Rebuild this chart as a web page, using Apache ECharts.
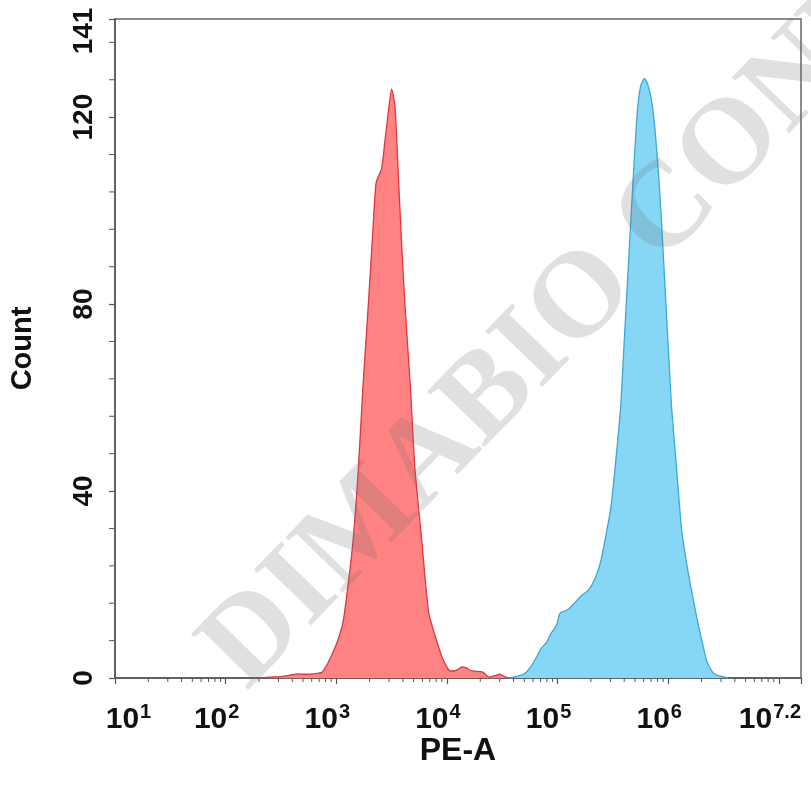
<!DOCTYPE html>
<html><head><meta charset="utf-8">
<script src="https://cdn.jsdelivr.net/npm/echarts@6/dist/echarts.min.js"></script>
<style>html,body{margin:0;padding:0;background:#fff}#c{width:811px;height:791px}</style>
</head><body><div id="c"></div>
<script>
// x values are log10(PE-A) exponents, y values are counts
const redX = [2.30, 2.40, 2.50, 2.58, 2.65, 2.72, 2.80, 2.87, 2.92, 2.97, 3.01, 3.06, 3.10, 3.15, 3.20, 3.24, 3.29, 3.33, 3.36, 3.41, 3.44, 3.47, 3.50, 3.53, 3.56, 3.59, 3.62, 3.67, 3.71, 3.77, 3.835, 3.90, 3.96, 4.03, 4.08, 4.14, 4.17, 4.23, 4.32, 4.38, 4.43, 4.48, 4.52, 4.56];
const redY = [0, 0.2, 0.3, 0.6, 0.9, 0.8, 0.9, 1.2, 3.0, 5.5, 7.8, 11.8, 18.7, 29, 45, 62, 80, 95.5, 106, 109, 115, 121, 126, 122.5, 108, 93, 80, 62, 45, 30, 14, 8.5, 4.2, 1.5, 1.6, 2.4, 2.2, 1.5, 1.3, 0.2, 0.5, 0.8, 0.3, 0];
const blueX = [4.56, 4.62, 4.70, 4.76, 4.81, 4.85, 4.90, 4.94, 4.99, 5.02, 5.05, 5.08, 5.11, 5.16, 5.19, 5.23, 5.28, 5.34, 5.39, 5.43, 5.48, 5.52, 5.57, 5.60, 5.63, 5.66, 5.69, 5.72, 5.75, 5.785, 5.815, 5.85, 5.88, 5.91, 5.94, 5.97, 6.00, 6.03, 6.075, 6.12, 6.17, 6.21, 6.26, 6.31, 6.35, 6.40, 6.44, 6.54];
const blueY = [0, 0.3, 0.9, 2.5, 4.5, 6.3, 7.6, 9.5, 11.3, 13.8, 14.2, 14.5, 15, 16.2, 17, 17.9, 18.8, 21.4, 24.9, 29.7, 36.2, 45, 58, 71, 84, 97, 109.6, 121, 126.6, 128.3, 127, 123.5, 117.4, 108.7, 97.3, 84, 71, 58, 45, 31.9, 24, 18.8, 12.7, 7.4, 3.5, 1.3, 0.6, 0];
const xMinExp = 1, xMaxExp = 7.2;
const yMax = 141, yInterval = 40;
const xTitle = 'PE-A', yTitle = 'Count';
const watermark = 'DIMABIO CONFIDENTIAL';

// minor tick positions (log-spaced on x, every 8 counts on y)
const xMinor = [];
for (let n = 1; n <= 7; n++) for (let k = 2; k <= 9; k++) { const v = n + Math.log10(k); if (v < xMaxExp) xMinor.push([v, 0]); }
const yMinor = [];
for (let v = 8; v < yMax; v += 8) if (v % 40 !== 0) yMinor.push([xMinExp, v]);

const zip = (a, b) => a.map((v, i) => [v, b[i]]);
const chart = echarts.init(document.getElementById('c'), null, {renderer: 'canvas'});
const font = '"Liberation Sans", Arial, sans-serif';
const ink = '#111';
chart.setOption({
  animation: false,
  grid: {left: 115, top: 19, right: 10, bottom: 113, containLabel: false, outerBoundsMode: 'none',
         show: true, borderColor: '#666', borderWidth: 1.5},
  xAxis: {
    type: 'value', min: xMinExp, max: xMaxExp, interval: 1,
    name: xTitle, nameLocation: 'middle', nameGap: 57, nameMoveOverlap: false,
    nameTextStyle: {fontFamily: font, fontWeight: 'bold', fontSize: 32, color: ink},
    axisLine: {lineStyle: {color: '#555', width: 1.5}},
    axisTick: {show: true, length: 6, lineStyle: {color: '#555', width: 1.2}},
    splitLine: {show: false},
    axisLabel: {
      margin: 24, alignMaxLabel: 'right',
      formatter: function (v) {
        if (Math.abs(v - 7) < 1e-9) return '';
        const e = Math.round(v * 10) / 10;
        if (e === xMinExp) return '{bl|10}{s0|' + e + '}';
        if (e === xMaxExp) return '{b|10}{s0|' + e + '}';
        return '{b|10}{s|' + e + '}';
      },
      rich: {
        b: {fontFamily: font, fontWeight: 'bold', fontSize: 30, color: ink},
        bl: {fontFamily: font, fontWeight: 'bold', fontSize: 30, color: ink, padding: [0, 0, 0, 27]},
        s: {fontFamily: font, fontWeight: 'bold', fontSize: 20, color: ink, verticalAlign: 'top', padding: [0, 18, 16, 1]},
        s0: {fontFamily: font, fontWeight: 'bold', fontSize: 20, color: ink, verticalAlign: 'top', padding: [0, 0, 16, 1]}
      }
    }
  },
  yAxis: {
    type: 'value', min: 0, max: yMax, interval: yInterval,
    name: yTitle, nameLocation: 'middle', nameGap: 78, nameMoveOverlap: false,
    nameTextStyle: {fontFamily: font, fontWeight: 'bold', fontSize: 29, color: ink},
    axisLine: {show: true, lineStyle: {color: '#555', width: 1.5}},
    axisTick: {show: true, length: 6, lineStyle: {color: '#555', width: 1.2}},
    splitLine: {show: false},
    axisLabel: {rotate: 90, margin: 17, color: ink,
      formatter: function (v) { return v === yMax ? '{m|' + v + '}' : '{n|' + v + '}'; },
      rich: {
        n: {fontFamily: font, fontWeight: 'bold', fontSize: 28, color: ink},
        m: {fontFamily: font, fontWeight: 'bold', fontSize: 28, color: ink, padding: [0, 24, 0, 0]}
      }
    }
  },
  series: [
    {type: 'line', data: zip(redX, redY), showSymbol: false, smooth: 0.2,
     lineStyle: {color: '#e0363c', width: 1.3}, areaStyle: {color: '#ff8383', opacity: 1}, z: 2},
    {type: 'line', data: zip(blueX, blueY), showSymbol: false, smooth: 0.2,
     lineStyle: {color: '#3aa9d4', width: 1.3}, areaStyle: {color: '#86d7f6', opacity: 1}, z: 2},
    {type: 'custom', data: xMinor, clip: false, silent: true, z: 3,
     renderItem: function (p, api) { const c = api.coord([api.value(0), 0]);
       return {type: 'line', shape: {x1: c[0], y1: c[1], x2: c[0], y2: c[1] + 4}, style: {stroke: '#555', lineWidth: 1}}; }},
    {type: 'custom', data: yMinor, clip: false, silent: true, z: 3,
     renderItem: function (p, api) { const c = api.coord([api.value(0), api.value(1)]);
       return {type: 'line', shape: {x1: c[0], y1: c[1], x2: c[0] - 6, y2: c[1]}, style: {stroke: '#555', lineWidth: 1}}; }}
  ],
  graphic: [{
    type: 'text', x: 268, y: 712, rotation: 0.80, z: 100, silent: true,
    style: {text: watermark, font: 'bold 122px "Liberation Serif", "Times New Roman", serif',
            fill: 'rgba(110,110,110,0.21)', align: 'left', verticalAlign: 'bottom'}
  }]
});
</script></body></html>
